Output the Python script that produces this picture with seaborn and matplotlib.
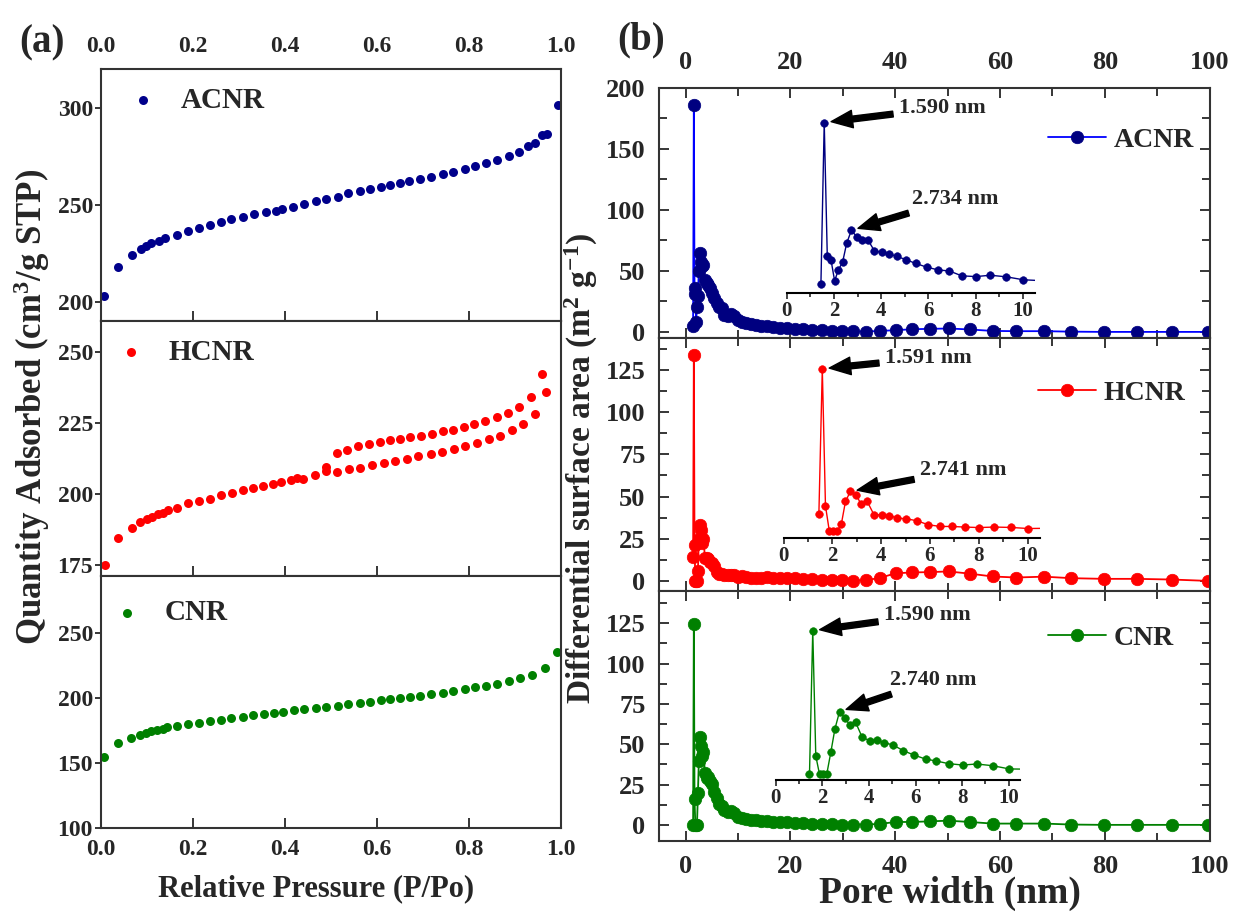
import matplotlib
matplotlib.use("Agg")
import matplotlib.pyplot as plt
import seaborn as sns
import pandas as pd
from matplotlib.ticker import MultipleLocator

# ---------------- panel (a): N2 adsorption isotherms ----------------
p_acnr = [0.0075, 0.037, 0.068, 0.087, 0.099, 0.110, 0.126, 0.140, 0.165, 0.189,
          0.214, 0.237, 0.262, 0.284, 0.309, 0.334, 0.359, 0.380, 0.394, 0.417,
          0.442, 0.467, 0.490, 0.515, 0.538, 0.563, 0.586, 0.608, 0.629, 0.650,
          0.669, 0.694, 0.718, 0.743, 0.766, 0.791, 0.814, 0.837, 0.862, 0.887,
          0.908, 0.929, 0.943, 0.958, 0.970, 0.993]
q_acnr = [202.9, 217.7, 224.0, 227.0, 228.7, 230.0, 231.4, 232.6, 234.3, 236.4,
          237.8, 239.5, 240.9, 242.4, 243.8, 245.2, 246.1, 246.9, 247.8, 249.0,
          250.3, 251.9, 252.9, 254.1, 255.9, 257.2, 257.9, 259.3, 260.1, 261.3,
          262.2, 263.2, 264.4, 265.8, 267.0, 268.4, 270.1, 271.3, 273.0, 275.1,
          277.0, 280.3, 281.7, 285.9, 286.5, 301.4]

p_hcnr_ads = [0.010, 0.037, 0.068, 0.086, 0.100, 0.111, 0.124, 0.135, 0.147, 0.165,
              0.189, 0.214, 0.237, 0.262, 0.286, 0.309, 0.330, 0.352, 0.374, 0.392,
              0.413, 0.426, 0.440, 0.465, 0.490, 0.513, 0.540, 0.564, 0.589, 0.615,
              0.640, 0.665, 0.690, 0.717, 0.741, 0.767, 0.791, 0.817, 0.843, 0.868,
              0.893, 0.918, 0.943, 0.968]
q_hcnr_ads = [174.9, 184.3, 188.1, 189.9, 191.0, 191.8, 192.8, 193.4, 194.2, 195.1,
              196.6, 197.5, 198.3, 199.5, 200.4, 201.3, 202.2, 202.7, 203.6, 204.1,
              204.8, 205.7, 205.4, 206.5, 208.0, 207.7, 208.6, 209.2, 210.1, 210.9,
              211.5, 212.4, 213.3, 213.9, 214.8, 216.0, 216.8, 218.0, 219.4, 220.5,
              222.4, 224.8, 228.2, 235.9]
p_hcnr_des = [0.958, 0.934, 0.909, 0.885, 0.860, 0.835, 0.812, 0.789, 0.766, 0.743,
              0.719, 0.697, 0.673, 0.651, 0.629, 0.607, 0.584, 0.560, 0.536, 0.513,
              0.490]
q_hcnr_des = [242.2, 234.1, 230.8, 228.7, 227.1, 225.6, 224.7, 223.5, 222.7, 222.1,
              221.2, 220.5, 220.1, 219.5, 218.9, 218.3, 217.6, 216.8, 215.6, 214.5,
              209.6]

p_cnr = [0.0075, 0.037, 0.066, 0.086, 0.099, 0.110, 0.122, 0.135, 0.145, 0.165,
         0.189, 0.214, 0.237, 0.262, 0.284, 0.309, 0.332, 0.355, 0.376, 0.397,
         0.420, 0.442, 0.467, 0.490, 0.515, 0.538, 0.563, 0.586, 0.608, 0.629,
         0.650, 0.671, 0.694, 0.718, 0.743, 0.766, 0.791, 0.814, 0.837, 0.862,
         0.887, 0.912, 0.937, 0.966, 0.991]
q_cnr = [154.3, 165.4, 169.2, 171.8, 173.1, 174.3, 175.6, 176.4, 177.4, 178.7,
         180.0, 181.2, 182.0, 183.3, 184.6, 185.8, 186.9, 187.7, 188.5, 189.2,
         190.5, 191.5, 192.3, 193.1, 194.1, 195.4, 196.2, 197.2, 198.2, 199.2,
         200.0, 201.0, 202.0, 203.3, 204.3, 205.6, 207.2, 208.5, 209.5, 211.0,
         213.3, 215.4, 217.9, 223.5, 235.8]

# ---------------- panel (b): pore size distribution ----------------
pore_width = [1.45, 1.59, 1.72, 1.88, 2.03, 2.19, 2.37, 2.54, 2.74, 2.97,
              3.18, 3.43, 3.71, 4.03, 4.34, 4.66, 5.04, 5.47, 5.93, 6.43,
              6.89, 7.42, 8.02, 8.63, 9.31, 10.03, 10.8, 11.6, 12.5, 13.4,
              14.4, 15.5, 16.7, 18.0, 19.4, 20.9, 22.5, 24.2, 26.0, 27.9,
              29.9, 32.0, 34.5, 37.1, 40.1, 43.3, 46.7, 50.2, 54.2, 58.6,
              63.1, 68.4, 73.6, 79.8, 86.1, 92.8, 99.6]
dsa_acnr = [4.8, 186.0, 35.8, 31.4, 8.4, 20.5, 29.5, 50.3, 65.0, 57.7,
            54.0, 54.7, 42.3, 40.2, 38.7, 35.8, 32.2, 27.8, 23.7, 20.5,
            19.4, 13.9, 13.1, 14.6, 12.8, 9.5, 8.5, 7.5, 6.5, 5.8,
            5.2, 4.6, 4.0, 3.5, 3.0, 2.5, 2.0, 1.6, 1.2, 1.0,
            0.6, 0.4, 0.3, 0.8, 1.4, 2.2, 2.5, 2.8, 2.0, 0.8,
            0.6, 0.6, 0.2, 0.0, 0.0, 0.0, 0.0]
dsa_hcnr = [14.3, 134.0, 21.1, 0.0, 0.0, 0.0, 6.0, 24.7, 32.9, 30.2,
            22.5, 24.7, 13.7, 13.7, 13.1, 11.0, 10.4, 8.8, 5.5, 4.1,
            4.1, 3.6, 3.2, 3.6, 3.3, 2.4, 2.6, 2.2, 2.0, 1.8,
            2.0, 2.2, 1.9, 1.6, 1.8, 1.5, 1.2, 1.0, 0.6, 0.4,
            0.3, 0.2, 0.4, 1.8, 4.5, 5.0, 5.2, 5.6, 4.3, 2.6,
            2.0, 2.5, 1.6, 1.2, 1.2, 0.8, 0.0]
dsa_cnr = [0.0, 124.7, 15.9, 0.0, 0.0, 0.0, 19.6, 39.3, 54.4, 48.6,
           42.8, 45.1, 32.1, 29.2, 29.8, 27.4, 25.4, 20.5, 16.7, 13.2,
           11.5, 9.2, 8.0, 8.9, 7.4, 4.6, 4.4, 3.8, 3.3, 2.9,
           2.6, 2.3, 2.0, 1.7, 1.5, 1.2, 1.0, 0.8, 0.6, 0.4,
           0.2, 0.1, 0.2, 0.6, 1.8, 1.8, 2.2, 2.6, 1.8, 0.8,
           0.8, 0.8, 0.2, 0.0, 0.0, 0.0, 0.0]

peak_widths = [1.59, 2.74]
peak_text = {"ACNR": ["1.590 nm", "2.734 nm"],
             "HCNR": ["1.591 nm", "2.741 nm"],
             "CNR": ["1.590 nm", "2.740 nm"]}

# ---------------- style ----------------
sns.set_theme(style="ticks")
plt.rcParams["font.family"] = ["Liberation Serif", "DejaVu Serif"]
plt.rcParams["font.weight"] = "bold"
plt.rcParams["axes.labelweight"] = "bold"
plt.rcParams["mathtext.fontset"] = "custom"
plt.rcParams["mathtext.rm"] = "Liberation Serif:bold"
plt.rcParams["mathtext.bf"] = "Liberation Serif:bold"
plt.rcParams["mathtext.it"] = "Liberation Serif:italic:bold"
plt.rcParams["mathtext.default"] = "rm"
plt.rcParams["axes.linewidth"] = 1.5
plt.rcParams["axes.edgecolor"] = "#333333"

W, H = 1239, 918
fig = plt.figure(figsize=(W / 100, H / 100), dpi=100)
fig.patch.set_facecolor("white")


def ax_px(l, t, r, b):
    return fig.add_axes([l / W, 1 - b / H, (r - l) / W, (b - t) / H])


# ---------------- panel (a) ----------------
a_top = ax_px(100.6, 69, 561, 321)
a_mid = ax_px(100.6, 321, 561, 576)
a_bot = ax_px(100.6, 576, 561, 828)

iso = [
    (a_top, "ACNR", p_acnr, q_acnr, "#00008b", (190, 320), 50, (131, 100)),
    (a_mid, "HCNR", p_hcnr_ads + p_hcnr_des, q_hcnr_ads + q_hcnr_des, "#ff0000",
     (171, 261), 25, (119, 352)),
    (a_bot, "CNR", p_cnr, q_cnr, "#008000", (100, 294), 50, (115, 613)),
]
for ax, name, px, qy, col, ylim, ystep, leg in iso:
    df = pd.DataFrame({"p": px, "q": qy})
    sns.scatterplot(data=df, x="p", y="q", ax=ax, color=col, s=42,
                    linewidth=0, label=name, legend=False)
    ax.set_xlim(0, 1.0)
    ax.set_ylim(*ylim)
    ax.yaxis.set_major_locator(MultipleLocator(ystep))
    ax.xaxis.set_major_locator(MultipleLocator(0.2))
    ax.set_xlabel("")
    ax.set_ylabel("")
    ax.tick_params(axis="x", direction="in", length=7, width=1.3, top=False,
                   labelbottom=False, labelsize=17, pad=8)
    ax.tick_params(axis="y", direction="out", length=4, width=1.3, right=False,
                   labelsize=17, pad=1.5)
    ax.legend(loc="center left", bbox_to_anchor=(leg[0] / W, 1 - leg[1] / H),
              bbox_transform=fig.transFigure, frameon=False, handlelength=0.8,
              handletextpad=0.9, borderpad=0, borderaxespad=0,
              prop={"size": 21, "weight": "bold"})

a_top.tick_params(axis="x", labeltop=True, pad=9)
a_top.xaxis.set_major_formatter(plt.FuncFormatter(lambda v, _: f"{v:.1f}"))
a_bot.tick_params(axis="x", labelbottom=True)
a_bot.xaxis.set_major_formatter(plt.FuncFormatter(lambda v, _: f"{v:.1f}"))
a_bot.set_xlabel("Relative Pressure (P/Po)", fontsize=22, fontweight="bold")
a_bot.xaxis.set_label_coords(0.468, -0.185)
a_mid.set_ylabel("Quantity Adsorbed (cm$^{3}$/g STP)", fontsize=25,
                 fontweight="bold")
a_mid.yaxis.set_label_coords(-0.105, 0.663)

# ---------------- panel (b) ----------------
b_top = ax_px(659.3, 88, 1209.6, 338)
b_mid = ax_px(659.3, 338, 1209.6, 591)
b_bot = ax_px(659.3, 591, 1209.6, 841)
in_top = ax_px(786.7, 112.7, 786.7 + 247.8, 292.7)
in_mid = ax_px(783.5, 357.5, 1039.7, 537.5)
in_bot = ax_px(775.7, 615, 1020.4, 780)

psd = [
    (b_top, in_top, "ACNR", dsa_acnr, "#0000ff", "#000080", (-5, 200), 50, 25,
     (-5, 197), (1048, 140), [(899, 108), (912, 199)]),
    (b_mid, in_mid, "HCNR", dsa_hcnr, "#ff0000", "#ff0000", (-6, 144), 25, 12.5,
     (-5, 143.3), (1038, 393), [(885, 358), (920, 470)]),
    (b_bot, in_bot, "CNR", dsa_cnr, "#008000", "#008000", (-10, 145), 25, 12.5,
     (-5, 138.3), (1048, 638), [(884, 615), (890, 680)]),
]
for ax, axi, name, vals, lcol, mcol, ylim, ymaj, ymin, iylim, leg, txts in psd:
    df = pd.DataFrame({"w": pore_width, "v": vals})
    sns.lineplot(data=df, x="w", y="v", ax=ax, color=lcol, lw=1.3, marker="o",
                 markersize=9, markerfacecolor=mcol, markeredgecolor=mcol,
                 markeredgewidth=0.5, estimator=None, sort=False, label=name,
                 legend=False)
    ax.set_xlim(-5, 100)
    ax.set_ylim(*ylim)
    ax.xaxis.set_major_locator(MultipleLocator(20))
    ax.xaxis.set_minor_locator(MultipleLocator(10))
    ax.yaxis.set_major_locator(MultipleLocator(ymaj))
    ax.yaxis.set_minor_locator(MultipleLocator(ymin))
    ax.set_xlabel("")
    ax.set_ylabel("")
    ax.tick_params(which="both", direction="in", top=True, right=True,
                   width=1.3, labelsize=19)
    ax.tick_params(which="major", length=7)
    ax.tick_params(which="minor", length=6)
    ax.tick_params(axis="x", labelbottom=False, pad=10)
    ax.tick_params(axis="y", pad=10)
    ax.legend(loc="center left", bbox_to_anchor=(leg[0] / W, 1 - leg[1] / H),
              bbox_transform=fig.transFigure, frameon=False, handlelength=2.1,
              handletextpad=0.25, borderpad=0, borderaxespad=0,
              prop={"size": 20, "weight": "bold"})

    # inset: zoom on 0-10.5 nm
    sns.lineplot(data=df, x="w", y="v", ax=axi, color=mcol, lw=1.0, marker="o",
                 markersize=5.5, markerfacecolor=mcol, markeredgecolor=mcol,
                 markeredgewidth=0.4, estimator=None, sort=False, legend=False)
    axi.set_xlim(0, 10.5)
    axi.set_ylim(*iylim)
    axi.patch.set_alpha(0)
    for s in ("left", "right", "top"):
        axi.spines[s].set_visible(False)
    axi.spines["bottom"].set_linewidth(1.5)
    axi.spines["bottom"].set_color("black")
    axi.set_yticks([])
    axi.set_xlabel("")
    axi.set_ylabel("")
    axi.xaxis.set_major_locator(MultipleLocator(2))
    axi.xaxis.set_minor_locator(MultipleLocator(1))
    axi.tick_params(axis="x", which="both", direction="out", width=1.2,
                    labelsize=15, pad=2)
    axi.tick_params(axis="x", which="major", length=4)
    axi.tick_params(axis="x", which="minor", length=3)

    for pw, txt, (tx, ty) in zip(peak_widths, peak_text[name], txts):
        i = pore_width.index(pw)
        axi.annotate(txt, xy=(pore_width[i], vals[i]), xycoords="data",
                     xytext=(tx, H - ty), textcoords="figure pixels",
                     ha="left", va="center", fontsize=16, fontweight="bold",
                     arrowprops=dict(arrowstyle="simple,head_length=1.1,"
                                     "head_width=0.9,tail_width=0.3",
                                     color="black", shrinkA=2, shrinkB=5,
                                     mutation_scale=14))

b_top.tick_params(axis="x", labeltop=True)
b_bot.tick_params(axis="x", labelbottom=True)
b_bot.set_xlabel("Pore width (nm)", fontsize=27, fontweight="bold")
b_bot.xaxis.set_label_coords(0.528, -0.14)
b_mid.set_ylabel("Differential surface area (m$^{2}$ g$^{-1}$)", fontsize=24,
                 fontweight="bold")
b_mid.yaxis.set_label_coords(-0.108, 0.486)

fig.text(42 / W, 1 - 43 / H, "(a)", fontsize=28, fontweight="bold",
         ha="center", va="center")
fig.text(641 / W, 1 - 40 / H, "(b)", fontsize=28, fontweight="bold",
         ha="center", va="center")

fig.savefig("out.png", dpi=100, facecolor="white")
